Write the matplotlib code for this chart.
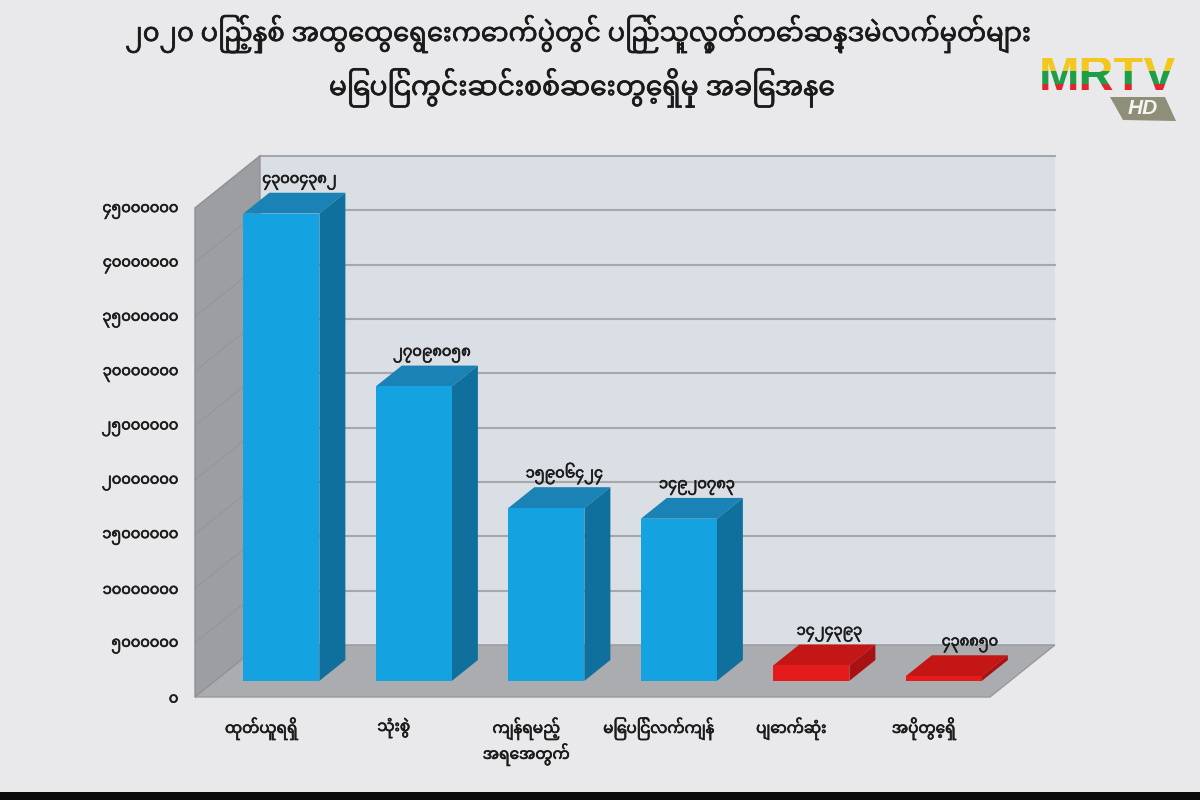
import matplotlib
matplotlib.use('Agg')
import matplotlib.pyplot as plt
import matplotlib.patheffects as pe
from matplotlib.patches import Polygon, Rectangle
from matplotlib.transforms import Bbox, TransformedBbox

plt.rcParams['font.family'] = ['Noto Sans Myanmar', 'Padauk', 'Noto Sans', 'DejaVu Sans']

title_lines = ['၂၀၂၀ ပြည့်နှစ် အထွေထွေရွေးကောက်ပွဲတွင် ပြည်သူ့လွှတ်တော်ဆန္ဒမဲလက်မှတ်များ',
               'မြေပြင်ကွင်းဆင်းစစ်ဆေးတွေ့ရှိမှု အခြေအနေ']
categories = ['ထုတ်ယူရရှိ', 'သုံးစွဲ', 'ကျန်ရမည့်\nအရေအတွက်', 'မြေပြင်လက်ကျန်', 'ပျောက်ဆုံး', 'အပိုတွေ့ရှိ']
values = [43004382, 27098058, 15906424, 14920783, 1424393, 438850]
value_labels = ['၄၃၀၀၄၃၈၂', '၂၇၀၉၈၀၅၈', '၁၅၉၀၆၄၂၄', '၁၄၉၂၀၇၈၃', '၁၄၂၄၃၉၃', '၄၃၈၈၅၀']
tick_values = [0, 5000000, 10000000, 15000000, 20000000, 25000000, 30000000, 35000000, 40000000, 45000000]
tick_labels = ['၀', '၅၀၀၀၀၀၀', '၁၀၀၀၀၀၀၀', '၁၅၀၀၀၀၀၀', '၂၀၀၀၀၀၀၀', '၂၅၀၀၀၀၀၀',
               '၃၀၀၀၀၀၀၀', '၃၅၀၀၀၀၀၀', '၄၀၀၀၀၀၀၀', '၄၅၀၀၀၀၀၀']
bar_colors = ['blue', 'blue', 'blue', 'blue', 'red', 'red']

# fake 3d: depth 1 = back wall, offset in data units
DX = 0.49
DY = 4.79e6
BAR_W = 0.574
D0 = 0.31
D1 = 0.71
shades = {'blue': ('#14a2e0', '#1a82b4', '#0f709e'),
          'red': ('#e31b1b', '#c51616', '#a81212')}
thick = [pe.withStroke(linewidth=0.5, foreground='#1c1c1c')]


def pt(x, y, d=0):
    return (x + d * DX, y + d * DY)


fig = plt.figure(figsize=(12, 8), dpi=100, facecolor='#e9e9eb')
ax = fig.add_axes([195 / 1200, 1 - 697 / 800, 795 / 1200, 489 / 800])
ax.set_xlim(-0.5, 5.5)
ax.set_ylim(0, 45000000)
ax.patch.set_visible(False)
for s in ax.spines.values():
    s.set_visible(False)

xl, xr = -0.5, 5.5
ymax = tick_values[-1]

# back wall, left wall, floor
ax.add_patch(Polygon([pt(xl, 0, 1), pt(xr, 0, 1), pt(xr, ymax, 1), pt(xl, ymax, 1)], fc='#dadee5', ec='none', clip_on=False, zorder=1))
ax.add_patch(Polygon([pt(xl, 0), pt(xl, 0, 1), pt(xl, ymax, 1), pt(xl, ymax)], fc='#9d9ea2', ec='#8e8f94', lw=1, clip_on=False, zorder=2))
ax.add_patch(Polygon([pt(xl, 0), pt(xr, 0), pt(xr, 0, 1), pt(xl, 0, 1)], fc='#abacb0', ec='#98999d', lw=1, clip_on=False, zorder=2))

for v in tick_values:
    x0, y0 = pt(xl, v, 1)
    x1, y1 = pt(xr, v, 1)
    if v > 0:
        ax.plot([x0, x1], [y0, y1], color='#a6a7ac', lw=1.5, clip_on=False, zorder=1.5)
    fx, fy = pt(xl, v)
    ax.plot([fx, x0], [fy, y0], color='#929397', lw=0.6, clip_on=False, zorder=2.5)

for i, v in enumerate(values):
    front, top, side = shades[bar_colors[i]]
    l, r = i - BAR_W / 2, i + BAR_W / 2
    ax.add_patch(Polygon([pt(l, 0, D0), pt(r, 0, D0), pt(r, v, D0), pt(l, v, D0)], fc=front, ec='none', clip_on=False, zorder=5))
    ax.add_patch(Polygon([pt(l, v, D0), pt(r, v, D0), pt(r, v, D1), pt(l, v, D1)], fc=top, ec='none', clip_on=False, zorder=4))
    ax.add_patch(Polygon([pt(r, 0, D0), pt(r, 0, D1), pt(r, v, D1), pt(r, v, D0)], fc=side, ec='none', clip_on=False, zorder=4))
    lx, ly = pt(i, v, D1)
    # last label sits further right in the original
    nudge = 8 if i == len(values) - 1 else 0
    ax.annotate(value_labels[i], (lx - 0.06, ly), xytext=(nudge * 0.72, 2), textcoords='offset points', ha='center', va='bottom',
                fontsize=10.5, color='#1c1c1c', zorder=6, annotation_clip=False, path_effects=thick)

ax.set_xticks(range(len(categories)))
ax.set_xticklabels(categories, fontsize=11, color='#1c1c1c', linespacing=1.25, va='top', path_effects=thick)
ax.set_yticks(tick_values)
ax.set_yticklabels(tick_labels, fontsize=10.5, color='#1c1c1c', path_effects=thick)
ax.tick_params(axis='both', length=0)
ax.tick_params(axis='x', pad=15)
ax.tick_params(axis='y', pad=12)

# full figure overlay in pixels for title, logo, bottom band
ov = fig.add_axes([0, 0, 1, 1], facecolor='none')
ov.set_xlim(0, 1200)
ov.set_ylim(800, 0)
ov.axis('off')
ov.text(578, 34, title_lines[0], ha='center', va='center', fontsize=18.6, color='#1a1a1a', path_effects=thick)
ov.text(582, 88, title_lines[1], ha='center', va='center', fontsize=19.2, color='#1a1a1a', path_effects=thick)
ov.add_patch(Rectangle((0, 792), 1200, 8, fc='#0a0a0a', ec='none'))

# logo
for col, y0, y1 in [('#f2c81e', 58, 71), ('#1f9e4a', 71, 84), ('#e0262c', 84, 98)]:
    t = ov.text(1108, 78, 'MRTV', ha='center', va='center', fontsize=35, fontweight='bold', color=col, family='Liberation Sans')
    t.set_clip_box(TransformedBbox(Bbox([[1030, y0], [1185, y1]]), ov.transData))
    t.set_clip_on(True)
ov.add_patch(Polygon([(1110, 97), (1165, 97), (1176, 121), (1123, 120)], fc='#8f8e78', ec='none'))
ov.text(1143, 109, 'HD', ha='center', va='center', fontsize=15, fontweight='bold', style='italic', color='#f4f4f0', family='Liberation Sans')

fig.savefig('out.png', dpi=100, facecolor=fig.get_facecolor())
